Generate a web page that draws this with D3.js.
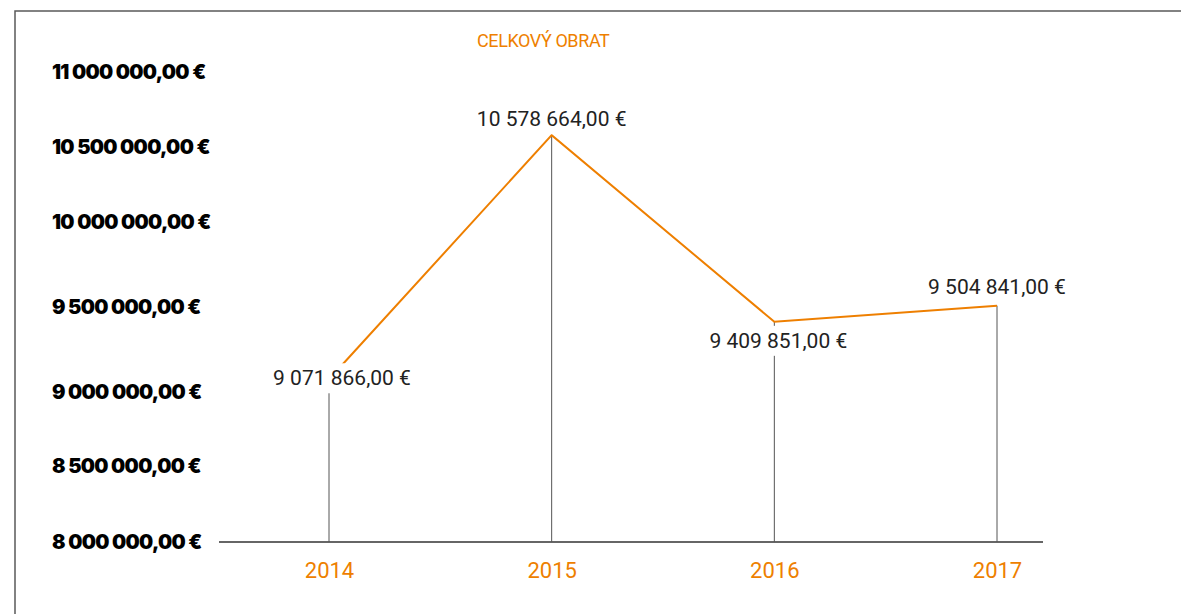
<!DOCTYPE html>
<html>
<head>
<meta charset="utf-8">
<script src="https://cdn.jsdelivr.net/npm/d3@7"></script>
<style>
    html, body { margin: 0; padding: 0; background: #fff; }
    svg { display: block; }
</style>
</head>
<body>
<svg id="chart"></svg>
<script>
// Chart data
const years = ['2014', '2015', '2016', '2017'];
const turnover = [9071866, 10578664, 9409851, 9504841];
const yTicks = [8000000, 8500000, 9000000, 9500000, 10000000, 10500000, 11000000];
const title = 'CELKOVÝ OBRAT';

// label placement relative to each point [dx, dy of baseline]
const labelOffsets = [[13, 6], [0, -9], [4, 26], [0, -12]];

const width = 1181;
const height = 614;
const orange = '#ee7f00';

const svg = d3.select('#chart')
    .attr('width', width)
    .attr('height', height);

// frame (top + left edges)
svg.append('path')
    .attr('d', `M15,${height} V11 H${width}`)
    .attr('fill', 'none')
    .attr('stroke', '#5a5a5a')
    .attr('stroke-width', 1.5);

// scales - the original axis spacing is not quite uniform
const x = d3.scalePoint()
    .domain(years)
    .range([329, 997]);

const y = d3.scaleLinear()
    .domain(yTicks)
    .range([542, 465.5, 391.5, 306.5, 222, 147, 72]);

const fmt = v => d3.format(',.2f')(v).replace(/,/g, ' ').replace('.', ',') + ' €';

// y tick labels
svg.append('g')
    .selectAll('text')
    .data(yTicks)
    .enter()
    .append('text')
    .attr('x', 52)
    .attr('y', d => y(d))
    .attr('dy', '0.36em')
    .style('font-family', 'Inter, Roboto, sans-serif')
    .style('font-size', '20px')
    .style('font-weight', 900)
    .style('letter-spacing', '-0.7px')
    .attr('fill', '#000')
    .text(fmt);

// x axis
const xAxis = d3.axisBottom(x).tickSize(0).tickPadding(20);
const axisG = svg.append('g')
    .attr('transform', `translate(0,${y(8000000)})`)
    .call(xAxis);
axisG.select('.domain').remove();
axisG.append('line')
    .attr('x1', 219)
    .attr('x2', 1043)
    .attr('stroke', '#333')
    .attr('stroke-width', 1.5);
axisG.selectAll('.tick text')
    .attr('fill', orange)
    .style('font-family', 'Roboto, sans-serif')
    .style('font-size', '22px');

const points = years.map((yr, i) => ({ year: yr, value: turnover[i], off: labelOffsets[i] }));

// drop lines from each point to the axis
svg.append('g')
    .selectAll('line')
    .data(points)
    .enter()
    .append('line')
    .attr('x1', d => x(d.year))
    .attr('x2', d => x(d.year))
    .attr('y1', d => y(d.value))
    .attr('y2', y(8000000))
    .attr('stroke', '#555')
    .attr('stroke-width', 1);

// turnover line
svg.append('path')
    .datum(points)
    .attr('fill', 'none')
    .attr('stroke', orange)
    .attr('stroke-width', 2)
    .attr('d', d3.line().x(d => x(d.year)).y(d => y(d.value)));

// value labels on white boxes
const labels = svg.append('g')
    .selectAll('g')
    .data(points)
    .enter()
    .append('g')
    .attr('transform', d => `translate(${x(d.year) + d.off[0]},${y(d.value) + d.off[1]})`);

labels.append('text')
    .attr('text-anchor', 'middle')
    .style('font-family', 'Roboto, sans-serif')
    .style('font-size', '21px')
    .attr('fill', '#222')
    .text(d => fmt(d.value));

labels.each(function() {
    const g = d3.select(this);
    const bb = g.select('text').node().getBBox();
    g.insert('rect', 'text')
        .attr('x', bb.x - 3)
        .attr('y', bb.y - 3)
        .attr('width', bb.width + 6)
        .attr('height', bb.height + 6)
        .attr('fill', '#fff');
});

// title
svg.append('text')
    .attr('x', 477)
    .attr('y', 47)
    .style('font-family', 'Roboto, sans-serif')
    .style('font-size', '18px')
    .style('letter-spacing', '-0.4px')
    .attr('fill', orange)
    .text(title);
</script>
</body>
</html>
